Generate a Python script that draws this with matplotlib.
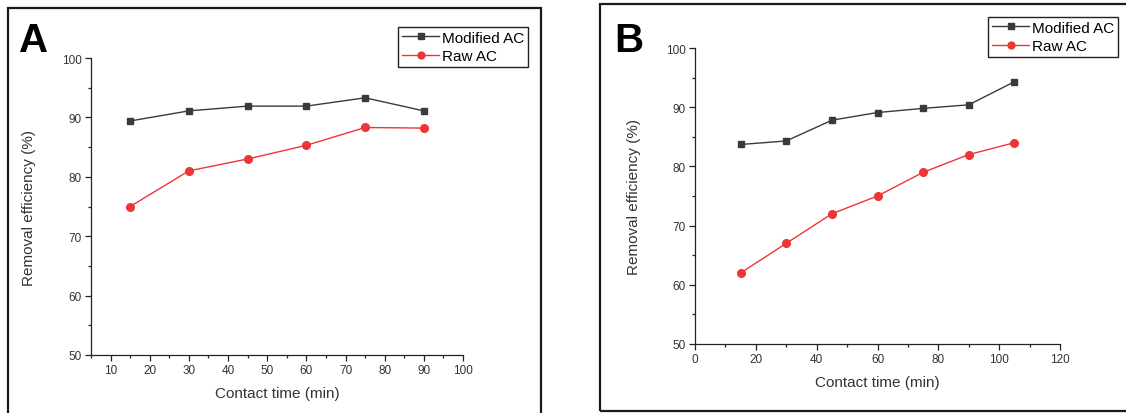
import matplotlib
matplotlib.use("Agg")
import matplotlib.pyplot as plt
from matplotlib.ticker import MultipleLocator
from matplotlib.patches import Rectangle

plt.rcParams['font.family'] = ['Liberation Sans', 'DejaVu Sans']

# data
time_a = [15, 30, 45, 60, 75, 90]
modified_a = [89.4, 91.1, 91.9, 91.9, 93.3, 91.1]
raw_a = [75.0, 81.0, 83.0, 85.3, 88.3, 88.2]

time_b = [15, 30, 45, 60, 75, 90, 105]
modified_b = [83.7, 84.3, 87.8, 89.1, 89.8, 90.4, 94.3]
raw_b = [62.0, 67.0, 72.0, 75.0, 79.0, 82.0, 84.0]

W, H = 1126, 414
fig = plt.figure(figsize=(W / 100, H / 100), dpi=100)

gray = '#3a3a3a'
red = '#ee3535'


def panel(rect, t, mod, raw, xlim, xmajor, xminor, leg_anchor, letter, letter_x):
    ax = fig.add_axes(rect)
    ax.plot(t, mod, color=gray, lw=1.0, marker='s', ms=5, label='Modified AC')
    ax.plot(t, raw, color=red, lw=1.0, marker='o', ms=5.5, label='Raw AC')
    ax.set_xlim(*xlim)
    ax.set_ylim(50, 100)
    ax.xaxis.set_major_locator(MultipleLocator(xmajor))
    ax.xaxis.set_minor_locator(MultipleLocator(xminor))
    ax.yaxis.set_major_locator(MultipleLocator(10))
    ax.yaxis.set_minor_locator(MultipleLocator(5))
    for s in ['top', 'right']:
        ax.spines[s].set_visible(False)
    for s in ['left', 'bottom']:
        ax.spines[s].set_color('#222222')
        ax.spines[s].set_linewidth(0.9)
    ax.tick_params(which='major', direction='out', length=4.5, width=0.9,
                   color='#222222', labelsize=8.5, labelcolor='#333333', pad=2)
    ax.tick_params(which='minor', direction='out', length=2.5, width=0.9, color='#222222')
    ax.set_xlabel('Contact time (min)', fontsize=11, color='#333333')
    ax.set_ylabel('Removal efficiency (%)', fontsize=11, color='#333333')
    ax.xaxis.set_label_coords(0.5, -0.104)
    ax.yaxis.set_label_coords(-0.148, 0.5)
    fig.legend(handles=ax.get_lines(), loc='upper right', bbox_to_anchor=leg_anchor,
               fontsize=11, frameon=True, fancybox=False, edgecolor='#222222',
               framealpha=1, borderpad=0.25, labelspacing=0.3, handlelength=2.4,
               handletextpad=0.2, borderaxespad=0, markerscale=0.9)
    fig.text(letter_x / W, 1 - 52 / H, letter, fontsize=29, fontweight='bold',
             ha='left', va='baseline')
    return ax


panel([91 / W, 58 / H, 372 / W, 297 / H], time_a, modified_a, raw_a,
      (5, 100), 10, 5, (528 / W, 1 - 28 / H), 'A', 19)
panel([695 / W, 69 / H, 365 / W, 296 / H], time_b, modified_b, raw_b,
      (0, 120), 20, 10, (1118 / W, 1 - 18 / H), 'B', 614)

# panel frames
fig.patches.append(Rectangle((8 / W, -0.05), 533 / W, 1.05 - 9 / H, transform=fig.transFigure,
                             fill=False, ec='#1a1a1a', lw=1.6))
fig.patches.append(Rectangle((600 / W, 2 / H), 0.5, 1 - 7 / H, transform=fig.transFigure,
                             fill=False, ec='#1a1a1a', lw=1.6))

fig.savefig('out.png', dpi=100)
